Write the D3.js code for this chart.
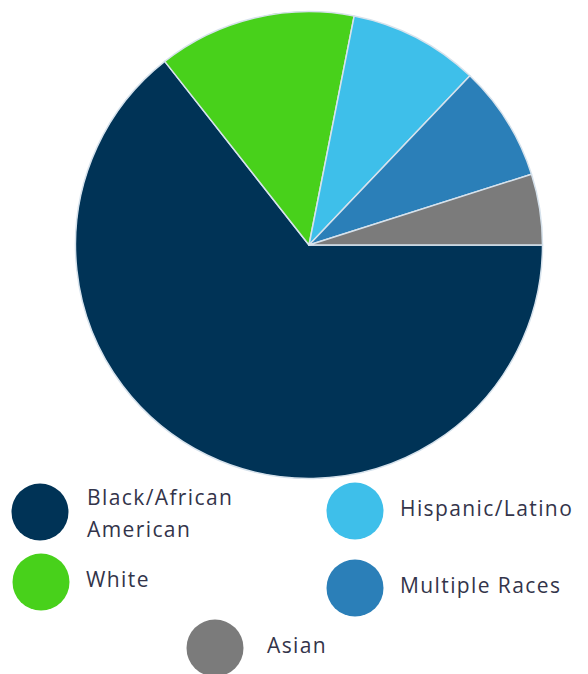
<!DOCTYPE html>
<html>
<head>
<meta charset="utf-8">
<script src="https://cdn.jsdelivr.net/npm/d3@7"></script>
<style>
  html, body { margin: 0; padding: 0; background: #fff; }
  #chart { width: 588px; height: 674px; }
</style>
</head>
<body>
<div id="chart"></div>
<script>
// Data (percent of total)
const categories = ["Black/African American", "White", "Hispanic/Latino", "Multiple Races", "Asian"];
const values = [64.4, 13.7, 9.0, 8.0, 4.9];
const colors = ["#003356", "#48d11b", "#3ebfea", "#2b7fb8", "#7b7b7b"];
// legend label lines (first label wraps)
const legendLines = [["Black/African", "American"], ["White"], ["Hispanic/Latino"], ["Multiple Races"], ["Asian"]];

const width = 588, height = 674;
const cx = 309, cy = 245, radius = 233.5;

const svg = d3.select("#chart")
  .append("svg")
  .attr("width", width)
  .attr("height", height);

// Pie starts at 3 o'clock and runs clockwise
const pie = d3.pie()
  .sort(null)
  .value(d => d.value)
  .startAngle(Math.PI / 2)
  .endAngle(Math.PI / 2 + 2 * Math.PI);

const arc = d3.arc().innerRadius(0).outerRadius(radius);

const data = categories.map((c, i) => ({ name: c, value: values[i], color: colors[i] }));

const g = svg.append("g").attr("transform", `translate(${cx},${cy})`);

g.selectAll("path")
  .data(pie(data))
  .enter()
  .append("path")
  .attr("d", arc)
  .attr("fill", d => d.data.color)
  .attr("stroke", "#d6e2ec")
  .attr("stroke-width", 1.5)
  .attr("stroke-linejoin", "round");

// Legend layout: item slots (circle centre), two columns plus a centred last row
const slots = [
  { x: 40, y: 512, tx: 47 },
  { x: 41, y: 582, tx: 45 },
  { x: 355, y: 511, tx: 45 },
  { x: 355, y: 588, tx: 45 },
  { x: 215, y: 648, tx: 52 }
];
const dotR = 28.5;
const lineH = 32.5;

const legend = svg.selectAll(".legend")
  .data(data)
  .enter()
  .append("g")
  .attr("class", "legend")
  .attr("transform", (d, i) => `translate(${slots[i].x},${slots[i].y})`);

legend.append("circle")
  .attr("r", dotR)
  .attr("fill", d => d.color);

legend.append("text")
  .attr("y", (d, i) => 5 - (legendLines[i].length - 1) * 12.5)
  .style("font-family", "'Open Sans', sans-serif")
  .style("font-size", "21px")
  .style("letter-spacing", "1.4px")
  .style("fill", "#33344a")
  .selectAll("tspan")
  .data((d, i) => legendLines[i].map(t => ({ t, tx: slots[i].tx })))
  .enter()
  .append("tspan")
  .attr("x", d => d.tx)
  .attr("dy", (d, j) => j === 0 ? 0 : lineH)
  .text(d => d.t);
</script>
</body>
</html>
